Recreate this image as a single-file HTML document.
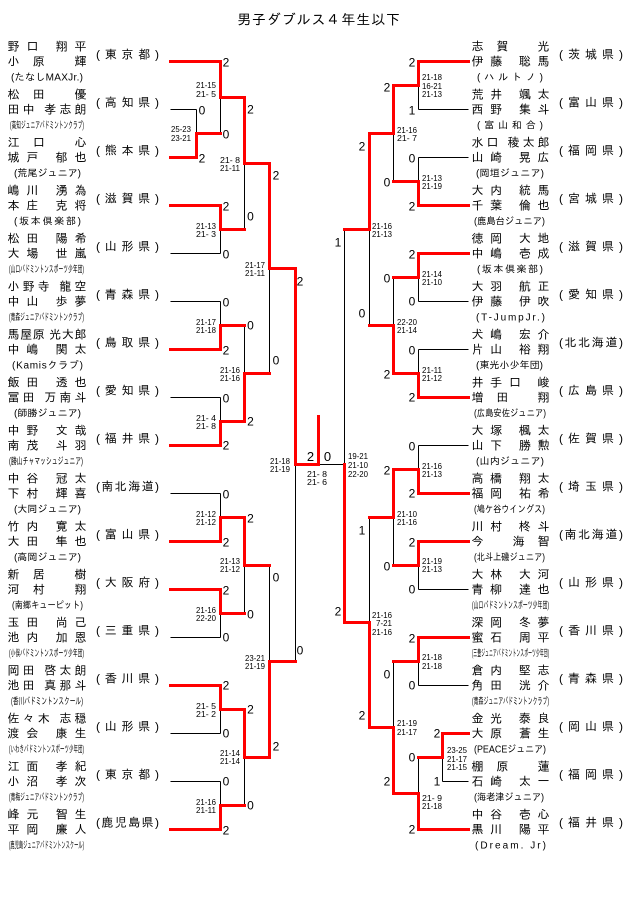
<!DOCTYPE html>
<html><head><meta charset="utf-8">
<style>
html,body{margin:0;padding:0;background:#fff}
svg{display:block}
.n,.p{font-size:12px;font-family:"Liberation Sans","IPAGothic",sans-serif;fill:#000}
.c{font-size:10px;font-family:"Liberation Sans","IPAGothic",sans-serif;fill:#000}
.t{font-size:14px;font-family:"Liberation Sans","IPAGothic",sans-serif;fill:#000}
.s{font-size:8px;font-family:"Liberation Sans",sans-serif;fill:#000}
.l{font-size:12px;font-family:"Liberation Sans",sans-serif;text-anchor:middle;fill:#000}
.lf{font-size:13px;font-family:"Liberation Sans",sans-serif;text-anchor:middle;fill:#000}
</style></head>
<body>
<svg width="640" height="909" viewBox="0 0 640 909" xmlns="http://www.w3.org/2000/svg">
<rect width="640" height="909" fill="#fff"/>
<text class="t" x="237" y="24.5" textLength="163" lengthAdjust="spacing">男子ダブルス４年生以下</text>

<!-- lines -->
<g transform="translate(-0.5,-0.5)" fill="none" shape-rendering="crispEdges">
<path stroke="#000" stroke-width="1" d="
M171 110H197 M171 254H221 M171 302H221 M171 398H221 M171 494H221 M171 638H221 M171 734H221 M171 782H221
M197 110V134 M221 98V134 M221 230V254 M221 302V326 M221 398V422 M221 494V518 M221 614V638 M221 710V734 M221 782V806
M245 164V230 M245 326V374 M245 566V614 M245 758V806
M270 269V374 M270 566V662
M296 465V662
M319 465H345
M345 230V465
M370 230V326 M370 518V623
M394 134V182 M394 278V326 M394 518V566 M394 662V728
M419 86V110 M419 158V182 M419 278V302 M419 350V374 M419 446V470 M419 566V590 M419 662V686 M419 758V794
M443 758V782
M419 110H469 M419 158H469 M419 302H469 M419 350H469 M419 446H469 M419 590H469 M419 686H469 M443 782H469"/>
<g stroke="#ff0000" stroke-width="3" stroke-linejoin="miter" stroke-linecap="square">
<path d="M171 62H221V98H245V164H270V269H296V465H319V417"/>
<path d="M171 158H197V134H221"/>
<path d="M171 206H221V230H245"/>
<path d="M171 350H221V326H245"/>
<path d="M171 446H221V422H245V374H270"/>
<path d="M171 542H221V518H245V566H270"/>
<path d="M171 590H221V614H245"/>
<path d="M171 686H221V710H245V758H270V662H296"/>
<path d="M171 830H221V806H245"/>
<path d="M469 62H419V86H394V134H370V230H345"/>
<path d="M469 206H419V182H394"/>
<path d="M469 254H419V278H394"/>
<path d="M469 398H419V374H394V326H370"/>
<path d="M469 494H419V470H394V518H370"/>
<path d="M469 542H419V566H394"/>
<path d="M469 638H419V662H394"/>
<path d="M469 734H443V758H419"/>
<path d="M469 830H419V794H394V728H370V623H345V465"/>
</g>
</g>

<!-- left teams -->
<g transform="translate(0,62)"><text class="n" x="7.5" y="-11.3" textLength="79" lengthAdjust="spacing">野口 翔平</text><text class="n" x="7.5" y="3.7" textLength="79" lengthAdjust="spacing">小原 輝</text><text class="p" x="96" y="-3.7" textLength="63" lengthAdjust="spacing">(東京都)</text><text class="c" x="11" y="18.7" textLength="72" lengthAdjust="spacing">(たなしMAXJr.)</text></g>
<g transform="translate(0,110)"><text class="n" x="7.5" y="-11.3" textLength="79" lengthAdjust="spacing">松田 優</text><text class="n" x="7.5" y="3.7" textLength="79" lengthAdjust="spacing">田中 孝志朗</text><text class="p" x="96" y="-3.7" textLength="63" lengthAdjust="spacing">(高知県)</text><text class="c" x="10" y="18.7" textLength="74" lengthAdjust="spacingAndGlyphs">(高知ジュニアバドミントンクラブ)</text></g>
<g transform="translate(0,158)"><text class="n" x="7.5" y="-11.3" textLength="79" lengthAdjust="spacing">江口 心</text><text class="n" x="7.5" y="3.7" textLength="79" lengthAdjust="spacing">城戸 郁也</text><text class="p" x="96" y="-3.7" textLength="63" lengthAdjust="spacing">(熊本県)</text><text class="c" x="14" y="18.7" textLength="67" lengthAdjust="spacing">(荒尾ジュニア)</text></g>
<g transform="translate(0,206)"><text class="n" x="7.5" y="-11.3" textLength="79" lengthAdjust="spacing">嶋川 湧為</text><text class="n" x="7.5" y="3.7" textLength="79" lengthAdjust="spacing">本庄 克将</text><text class="p" x="96" y="-3.7" textLength="63" lengthAdjust="spacing">(滋賀県)</text><text class="c" x="14" y="18.7" textLength="67" lengthAdjust="spacing">(坂本倶楽部)</text></g>
<g transform="translate(0,254)"><text class="n" x="7.5" y="-11.3" textLength="79" lengthAdjust="spacing">松田 陽希</text><text class="n" x="7.5" y="3.7" textLength="79" lengthAdjust="spacing">大場 世嵐</text><text class="p" x="96" y="-3.7" textLength="63" lengthAdjust="spacing">(山形県)</text><text class="c" x="9" y="18.7" textLength="75" lengthAdjust="spacingAndGlyphs">(山口バドミントンスポーツ少年団)</text></g>
<g transform="translate(0,302)"><text class="n" x="7.5" y="-11.3" textLength="79" lengthAdjust="spacing">小野寺 龍空</text><text class="n" x="7.5" y="3.7" textLength="79" lengthAdjust="spacing">中山 歩夢</text><text class="p" x="96" y="-3.7" textLength="63" lengthAdjust="spacing">(青森県)</text><text class="c" x="9" y="18.7" textLength="75" lengthAdjust="spacingAndGlyphs">(青森ジュニアバドミントンクラブ)</text></g>
<g transform="translate(0,350)"><text class="n" x="7.5" y="-11.3" textLength="79" lengthAdjust="spacing">馬屋原 光大郎</text><text class="n" x="7.5" y="3.7" textLength="79" lengthAdjust="spacing">中嶋 関太</text><text class="p" x="96" y="-3.7" textLength="63" lengthAdjust="spacing">(鳥取県)</text><text class="c" x="12" y="18.7" textLength="71" lengthAdjust="spacing">(Kamisクラブ)</text></g>
<g transform="translate(0,398)"><text class="n" x="7.5" y="-11.3" textLength="79" lengthAdjust="spacing">飯田 透也</text><text class="n" x="7.5" y="3.7" textLength="79" lengthAdjust="spacing">冨田 万南斗</text><text class="p" x="96" y="-3.7" textLength="63" lengthAdjust="spacing">(愛知県)</text><text class="c" x="14" y="18.7" textLength="67" lengthAdjust="spacing">(師勝ジュニア)</text></g>
<g transform="translate(0,446)"><text class="n" x="7.5" y="-11.3" textLength="79" lengthAdjust="spacing">中野 文哉</text><text class="n" x="7.5" y="3.7" textLength="79" lengthAdjust="spacing">南茂 斗羽</text><text class="p" x="96" y="-3.7" textLength="63" lengthAdjust="spacing">(福井県)</text><text class="c" x="9" y="18.7" textLength="74" lengthAdjust="spacingAndGlyphs">(勝山チャマッシュジュニア)</text></g>
<g transform="translate(0,494)"><text class="n" x="7.5" y="-11.3" textLength="79" lengthAdjust="spacing">中谷 冠太</text><text class="n" x="7.5" y="3.7" textLength="79" lengthAdjust="spacing">下村 輝喜</text><text class="p" x="96" y="-3.7" textLength="63" lengthAdjust="spacing">(南北海道)</text><text class="c" x="14" y="18.7" textLength="67" lengthAdjust="spacing">(大同ジュニア)</text></g>
<g transform="translate(0,542)"><text class="n" x="7.5" y="-11.3" textLength="79" lengthAdjust="spacing">竹内 寛太</text><text class="n" x="7.5" y="3.7" textLength="79" lengthAdjust="spacing">大田 隼也</text><text class="p" x="96" y="-3.7" textLength="63" lengthAdjust="spacing">(富山県)</text><text class="c" x="14" y="18.7" textLength="67" lengthAdjust="spacing">(高岡ジュニア)</text></g>
<g transform="translate(0,590)"><text class="n" x="7.5" y="-11.3" textLength="79" lengthAdjust="spacing">新居 樹</text><text class="n" x="7.5" y="3.7" textLength="79" lengthAdjust="spacing">河村 翔</text><text class="p" x="96" y="-3.7" textLength="63" lengthAdjust="spacing">(大阪府)</text><text class="c" x="12" y="18.7" textLength="71" lengthAdjust="spacingAndGlyphs">(南郷キューピット)</text></g>
<g transform="translate(0,638)"><text class="n" x="7.5" y="-11.3" textLength="79" lengthAdjust="spacing">玉田 尚己</text><text class="n" x="7.5" y="3.7" textLength="79" lengthAdjust="spacing">池内 加恩</text><text class="p" x="96" y="-3.7" textLength="63" lengthAdjust="spacing">(三重県)</text><text class="c" x="9" y="18.7" textLength="75" lengthAdjust="spacingAndGlyphs">(小俣バドミントンスポーツ少年団)</text></g>
<g transform="translate(0,686)"><text class="n" x="7.5" y="-11.3" textLength="79" lengthAdjust="spacing">岡田 啓太朗</text><text class="n" x="7.5" y="3.7" textLength="79" lengthAdjust="spacing">池田 真那斗</text><text class="p" x="96" y="-3.7" textLength="63" lengthAdjust="spacing">(香川県)</text><text class="c" x="11" y="18.7" textLength="72" lengthAdjust="spacingAndGlyphs">(香川バドミントンスクール)</text></g>
<g transform="translate(0,734)"><text class="n" x="7.5" y="-11.3" textLength="79" lengthAdjust="spacing">佐々木 志穏</text><text class="n" x="7.5" y="3.7" textLength="79" lengthAdjust="spacing">渡会 康生</text><text class="p" x="96" y="-3.7" textLength="63" lengthAdjust="spacing">(山形県)</text><text class="c" x="9" y="18.7" textLength="75" lengthAdjust="spacingAndGlyphs">(いわきバドミントンスポーツ少年団)</text></g>
<g transform="translate(0,782)"><text class="n" x="7.5" y="-11.3" textLength="79" lengthAdjust="spacing">江面 孝紀</text><text class="n" x="7.5" y="3.7" textLength="79" lengthAdjust="spacing">小沼 孝次</text><text class="p" x="96" y="-3.7" textLength="63" lengthAdjust="spacing">(東京都)</text><text class="c" x="9" y="18.7" textLength="75" lengthAdjust="spacingAndGlyphs">(青梅ジュニアバドミントンクラブ)</text></g>
<g transform="translate(0,830)"><text class="n" x="7.5" y="-11.3" textLength="79" lengthAdjust="spacing">峰元 智生</text><text class="n" x="7.5" y="3.7" textLength="79" lengthAdjust="spacing">平岡 廉人</text><text class="p" x="96" y="-3.7" textLength="63" lengthAdjust="spacing">(鹿児島県)</text><text class="c" x="9" y="18.7" textLength="75" lengthAdjust="spacingAndGlyphs">(鹿児島ジュニアバドミントンスクール)</text></g>

<!-- right teams -->
<g transform="translate(0,62)"><text class="n" x="471.5" y="-11.3" textLength="78" lengthAdjust="spacing">志賀 光</text><text class="n" x="471.5" y="3.7" textLength="78" lengthAdjust="spacing">伊藤 聡馬</text><text class="p" x="559" y="-3.7" textLength="64" lengthAdjust="spacing">(茨城県)</text><text class="c" x="477" y="18.7" textLength="66" lengthAdjust="spacing">(ハルトノ)</text></g>
<g transform="translate(0,110)"><text class="n" x="471.5" y="-11.3" textLength="78" lengthAdjust="spacing">荒井 颯太</text><text class="n" x="471.5" y="3.7" textLength="78" lengthAdjust="spacing">西野 集斗</text><text class="p" x="559" y="-3.7" textLength="64" lengthAdjust="spacing">(富山県)</text><text class="c" x="477" y="18.7" textLength="66" lengthAdjust="spacing">(富山和合)</text></g>
<g transform="translate(0,158)"><text class="n" x="471.5" y="-11.3" textLength="78" lengthAdjust="spacing">水口 稜太郎</text><text class="n" x="471.5" y="3.7" textLength="78" lengthAdjust="spacing">山崎 晃広</text><text class="p" x="559" y="-3.7" textLength="64" lengthAdjust="spacing">(福岡県)</text><text class="c" x="476" y="18.7" textLength="68" lengthAdjust="spacing">(岡垣ジュニア)</text></g>
<g transform="translate(0,206)"><text class="n" x="471.5" y="-11.3" textLength="78" lengthAdjust="spacing">大内 統馬</text><text class="n" x="471.5" y="3.7" textLength="78" lengthAdjust="spacing">千葉 倫也</text><text class="p" x="559" y="-3.7" textLength="64" lengthAdjust="spacing">(宮城県)</text><text class="c" x="474" y="18.7" textLength="71" lengthAdjust="spacingAndGlyphs">(鹿島台ジュニア)</text></g>
<g transform="translate(0,254)"><text class="n" x="471.5" y="-11.3" textLength="78" lengthAdjust="spacing">徳岡 大地</text><text class="n" x="471.5" y="3.7" textLength="78" lengthAdjust="spacing">中嶋 壱成</text><text class="p" x="559" y="-3.7" textLength="64" lengthAdjust="spacing">(滋賀県)</text><text class="c" x="477" y="18.7" textLength="66" lengthAdjust="spacing">(坂本倶楽部)</text></g>
<g transform="translate(0,302)"><text class="n" x="471.5" y="-11.3" textLength="78" lengthAdjust="spacing">大羽 航正</text><text class="n" x="471.5" y="3.7" textLength="78" lengthAdjust="spacing">伊藤 伊吹</text><text class="p" x="559" y="-3.7" textLength="64" lengthAdjust="spacing">(愛知県)</text><text class="c" x="476" y="18.7" textLength="69" lengthAdjust="spacing">(T-JumpJr.)</text></g>
<g transform="translate(0,350)"><text class="n" x="471.5" y="-11.3" textLength="78" lengthAdjust="spacing">犬嶋 宏介</text><text class="n" x="471.5" y="3.7" textLength="78" lengthAdjust="spacing">片山 裕翔</text><text class="p" x="559" y="-3.7" textLength="64" lengthAdjust="spacing">(北北海道)</text><text class="c" x="476" y="18.7" textLength="67" lengthAdjust="spacingAndGlyphs">(東光小少年団)</text></g>
<g transform="translate(0,398)"><text class="n" x="471.5" y="-11.3" textLength="78" lengthAdjust="spacing">井手口 峻</text><text class="n" x="471.5" y="3.7" textLength="78" lengthAdjust="spacing">増田 翔</text><text class="p" x="559" y="-3.7" textLength="64" lengthAdjust="spacing">(広島県)</text><text class="c" x="474" y="18.7" textLength="72" lengthAdjust="spacingAndGlyphs">(広島安佐ジュニア)</text></g>
<g transform="translate(0,446)"><text class="n" x="471.5" y="-11.3" textLength="78" lengthAdjust="spacing">大塚 楓太</text><text class="n" x="471.5" y="3.7" textLength="78" lengthAdjust="spacing">山下 勝勲</text><text class="p" x="559" y="-3.7" textLength="64" lengthAdjust="spacing">(佐賀県)</text><text class="c" x="476" y="18.7" textLength="68" lengthAdjust="spacing">(山内ジュニア)</text></g>
<g transform="translate(0,494)"><text class="n" x="471.5" y="-11.3" textLength="78" lengthAdjust="spacing">高橋 翔太</text><text class="n" x="471.5" y="3.7" textLength="78" lengthAdjust="spacing">福岡 祐希</text><text class="p" x="559" y="-3.7" textLength="64" lengthAdjust="spacing">(埼玉県)</text><text class="c" x="474" y="18.7" textLength="71" lengthAdjust="spacingAndGlyphs">(鳩ケ谷ウイングス)</text></g>
<g transform="translate(0,542)"><text class="n" x="471.5" y="-11.3" textLength="78" lengthAdjust="spacing">川村 柊斗</text><text class="n" x="471.5" y="3.7" textLength="78" lengthAdjust="spacing">今 海智</text><text class="p" x="559" y="-3.7" textLength="64" lengthAdjust="spacing">(南北海道)</text><text class="c" x="474" y="18.7" textLength="71" lengthAdjust="spacingAndGlyphs">(北斗上磯ジュニア)</text></g>
<g transform="translate(0,590)"><text class="n" x="471.5" y="-11.3" textLength="78" lengthAdjust="spacing">大林 大河</text><text class="n" x="471.5" y="3.7" textLength="78" lengthAdjust="spacing">青柳 達也</text><text class="p" x="559" y="-3.7" textLength="64" lengthAdjust="spacing">(山形県)</text><text class="c" x="472" y="18.7" textLength="77" lengthAdjust="spacingAndGlyphs">(山口バドミントンスポーツ少年団)</text></g>
<g transform="translate(0,638)"><text class="n" x="471.5" y="-11.3" textLength="78" lengthAdjust="spacing">深岡 冬夢</text><text class="n" x="471.5" y="3.7" textLength="78" lengthAdjust="spacing">蜜石 周平</text><text class="p" x="559" y="-3.7" textLength="64" lengthAdjust="spacing">(香川県)</text><text class="c" x="472" y="18.7" textLength="77" lengthAdjust="spacingAndGlyphs">(三豊ジュニアバドミントンスポーツ少年団)</text></g>
<g transform="translate(0,686)"><text class="n" x="471.5" y="-11.3" textLength="78" lengthAdjust="spacing">倉内 堅志</text><text class="n" x="471.5" y="3.7" textLength="78" lengthAdjust="spacing">角田 洸介</text><text class="p" x="559" y="-3.7" textLength="64" lengthAdjust="spacing">(青森県)</text><text class="c" x="472" y="18.7" textLength="77" lengthAdjust="spacingAndGlyphs">(青森ジュニアバドミントンクラブ)</text></g>
<g transform="translate(0,734)"><text class="n" x="471.5" y="-11.3" textLength="78" lengthAdjust="spacing">金光 泰良</text><text class="n" x="471.5" y="3.7" textLength="78" lengthAdjust="spacing">大原 蒼生</text><text class="p" x="559" y="-3.7" textLength="64" lengthAdjust="spacing">(岡山県)</text><text class="c" x="474" y="18.7" textLength="72" lengthAdjust="spacingAndGlyphs">(PEACEジュニア)</text></g>
<g transform="translate(0,782)"><text class="n" x="471.5" y="-11.3" textLength="78" lengthAdjust="spacing">棚原 蓮</text><text class="n" x="471.5" y="3.7" textLength="78" lengthAdjust="spacing">石崎 太一</text><text class="p" x="559" y="-3.7" textLength="64" lengthAdjust="spacing">(福岡県)</text><text class="c" x="474" y="18.7" textLength="70" lengthAdjust="spacingAndGlyphs">(海老津ジュニア)</text></g>
<g transform="translate(0,830)"><text class="n" x="471.5" y="-11.3" textLength="78" lengthAdjust="spacing">中谷 壱心</text><text class="n" x="471.5" y="3.7" textLength="78" lengthAdjust="spacing">黒川 陽平</text><text class="p" x="559" y="-3.7" textLength="64" lengthAdjust="spacing">(福井県)</text><text class="c" x="475" y="18.7" textLength="71" lengthAdjust="spacing">(Dream. Jr)</text></g>

<!-- scores left -->
<g class="s">
<text class="s" x="171" y="131.9" textLength="20" lengthAdjust="spacingAndGlyphs">25-23</text>
<text class="s" x="171" y="140.9" textLength="20" lengthAdjust="spacingAndGlyphs">23-21</text>
<text class="s" x="196" y="87.9" textLength="20" lengthAdjust="spacingAndGlyphs">21-15</text>
<text class="s" x="196" y="96.9" textLength="20" lengthAdjust="spacingAndGlyphs">21- 5</text>
<text class="s" x="196" y="228.9" textLength="20" lengthAdjust="spacingAndGlyphs">21-13</text>
<text class="s" x="196" y="236.9" textLength="20" lengthAdjust="spacingAndGlyphs">21- 3</text>
<text class="s" x="196" y="324.9" textLength="20" lengthAdjust="spacingAndGlyphs">21-17</text>
<text class="s" x="196" y="332.9" textLength="20" lengthAdjust="spacingAndGlyphs">21-18</text>
<text class="s" x="196" y="420.9" textLength="20" lengthAdjust="spacingAndGlyphs">21- 4</text>
<text class="s" x="196" y="428.9" textLength="20" lengthAdjust="spacingAndGlyphs">21- 8</text>
<text class="s" x="196" y="516.9" textLength="20" lengthAdjust="spacingAndGlyphs">21-12</text>
<text class="s" x="196" y="524.9" textLength="20" lengthAdjust="spacingAndGlyphs">21-12</text>
<text class="s" x="196" y="612.9" textLength="20" lengthAdjust="spacingAndGlyphs">21-16</text>
<text class="s" x="196" y="620.9" textLength="20" lengthAdjust="spacingAndGlyphs">22-20</text>
<text class="s" x="196" y="708.9" textLength="20" lengthAdjust="spacingAndGlyphs">21- 5</text>
<text class="s" x="196" y="716.9" textLength="20" lengthAdjust="spacingAndGlyphs">21- 2</text>
<text class="s" x="196" y="804.9" textLength="20" lengthAdjust="spacingAndGlyphs">21-16</text>
<text class="s" x="196" y="812.9" textLength="20" lengthAdjust="spacingAndGlyphs">21-11</text>
<text class="s" x="220" y="162.9" textLength="20" lengthAdjust="spacingAndGlyphs">21- 8</text>
<text class="s" x="220" y="170.9" textLength="20" lengthAdjust="spacingAndGlyphs">21-11</text>
<text class="s" x="220" y="372.9" textLength="20" lengthAdjust="spacingAndGlyphs">21-16</text>
<text class="s" x="220" y="380.9" textLength="20" lengthAdjust="spacingAndGlyphs">21-16</text>
<text class="s" x="220" y="563.9" textLength="20" lengthAdjust="spacingAndGlyphs">21-13</text>
<text class="s" x="220" y="571.9" textLength="20" lengthAdjust="spacingAndGlyphs">21-12</text>
<text class="s" x="220" y="755.9" textLength="20" lengthAdjust="spacingAndGlyphs">21-14</text>
<text class="s" x="220" y="763.9" textLength="20" lengthAdjust="spacingAndGlyphs">21-14</text>
<text class="s" x="245" y="267.9" textLength="20" lengthAdjust="spacingAndGlyphs">21-17</text>
<text class="s" x="245" y="275.9" textLength="20" lengthAdjust="spacingAndGlyphs">21-11</text>
<text class="s" x="245" y="660.9" textLength="20" lengthAdjust="spacingAndGlyphs">23-21</text>
<text class="s" x="245" y="668.9" textLength="20" lengthAdjust="spacingAndGlyphs">21-19</text>
<text class="s" x="270" y="463.9" textLength="20" lengthAdjust="spacingAndGlyphs">21-18</text>
<text class="s" x="270" y="471.9" textLength="20" lengthAdjust="spacingAndGlyphs">21-19</text>
<text class="s" x="307" y="476.9" textLength="20" lengthAdjust="spacingAndGlyphs">21- 8</text>
<text class="s" x="307" y="484.9" textLength="20" lengthAdjust="spacingAndGlyphs">21- 6</text>
<text class="s" x="348" y="458.9" textLength="20" lengthAdjust="spacingAndGlyphs">19-21</text>
<text class="s" x="348" y="467.9" textLength="20" lengthAdjust="spacingAndGlyphs">21-10</text>
<text class="s" x="348" y="476.9" textLength="20" lengthAdjust="spacingAndGlyphs">22-20</text>
<!-- scores right -->
<text class="s" x="447" y="752.9" textLength="20" lengthAdjust="spacingAndGlyphs">23-25</text>
<text class="s" x="447" y="761.9" textLength="20" lengthAdjust="spacingAndGlyphs">21-17</text>
<text class="s" x="447" y="769.9" textLength="20" lengthAdjust="spacingAndGlyphs">21-15</text>
<text class="s" x="422" y="79.9" textLength="20" lengthAdjust="spacingAndGlyphs">21-18</text>
<text class="s" x="422" y="88.9" textLength="20" lengthAdjust="spacingAndGlyphs">16-21</text>
<text class="s" x="422" y="96.9" textLength="20" lengthAdjust="spacingAndGlyphs">21-13</text>
<text class="s" x="422" y="180.9" textLength="20" lengthAdjust="spacingAndGlyphs">21-13</text>
<text class="s" x="422" y="188.9" textLength="20" lengthAdjust="spacingAndGlyphs">21-19</text>
<text class="s" x="422" y="276.9" textLength="20" lengthAdjust="spacingAndGlyphs">21-14</text>
<text class="s" x="422" y="284.9" textLength="20" lengthAdjust="spacingAndGlyphs">21-10</text>
<text class="s" x="422" y="372.9" textLength="20" lengthAdjust="spacingAndGlyphs">21-11</text>
<text class="s" x="422" y="380.9" textLength="20" lengthAdjust="spacingAndGlyphs">21-12</text>
<text class="s" x="422" y="468.9" textLength="20" lengthAdjust="spacingAndGlyphs">21-16</text>
<text class="s" x="422" y="476.9" textLength="20" lengthAdjust="spacingAndGlyphs">21-13</text>
<text class="s" x="422" y="563.9" textLength="20" lengthAdjust="spacingAndGlyphs">21-19</text>
<text class="s" x="422" y="571.9" textLength="20" lengthAdjust="spacingAndGlyphs">21-13</text>
<text class="s" x="422" y="659.9" textLength="20" lengthAdjust="spacingAndGlyphs">21-18</text>
<text class="s" x="422" y="668.9" textLength="20" lengthAdjust="spacingAndGlyphs">21-18</text>
<text class="s" x="422" y="800.9" textLength="20" lengthAdjust="spacingAndGlyphs">21- 9</text>
<text class="s" x="422" y="808.9" textLength="20" lengthAdjust="spacingAndGlyphs">21-18</text>
<text class="s" x="397" y="132.9" textLength="20" lengthAdjust="spacingAndGlyphs">21-16</text>
<text class="s" x="397" y="140.9" textLength="20" lengthAdjust="spacingAndGlyphs">21- 7</text>
<text class="s" x="397" y="324.9" textLength="20" lengthAdjust="spacingAndGlyphs">22-20</text>
<text class="s" x="397" y="332.9" textLength="20" lengthAdjust="spacingAndGlyphs">21-14</text>
<text class="s" x="397" y="516.9" textLength="20" lengthAdjust="spacingAndGlyphs">21-10</text>
<text class="s" x="397" y="524.9" textLength="20" lengthAdjust="spacingAndGlyphs">21-16</text>
<text class="s" x="397" y="725.9" textLength="20" lengthAdjust="spacingAndGlyphs">21-19</text>
<text class="s" x="397" y="734.9" textLength="20" lengthAdjust="spacingAndGlyphs">21-17</text>
<text class="s" x="372" y="228.9" textLength="20" lengthAdjust="spacingAndGlyphs">21-16</text>
<text class="s" x="372" y="236.9" textLength="20" lengthAdjust="spacingAndGlyphs">21-13</text>
<text class="s" x="372" y="617.9" textLength="20" lengthAdjust="spacingAndGlyphs">21-16</text>
<text class="s" x="376" y="625.9" textLength="16" lengthAdjust="spacingAndGlyphs">7-21</text>
<text class="s" x="372" y="634.9" textLength="20" lengthAdjust="spacingAndGlyphs">21-16</text>
</g>

<!-- game count labels left -->
<g class="l">
<text class="l" x="202" y="114.3">0</text><text class="l" x="202" y="162.3">2</text>
<text class="l" x="226" y="66.3">2</text><text class="l" x="226" y="138.3">0</text><text class="l" x="226" y="210.3">2</text><text class="l" x="226" y="258.3">0</text>
<text class="l" x="226" y="306.3">0</text><text class="l" x="226" y="354.3">2</text><text class="l" x="226" y="402.3">0</text><text class="l" x="226" y="449.3">2</text>
<text class="l" x="226" y="498.3">0</text><text class="l" x="226" y="546.3">2</text><text class="l" x="226" y="594.3">2</text><text class="l" x="226" y="641.3">0</text>
<text class="l" x="226" y="689.3">2</text><text class="l" x="226" y="737.3">0</text><text class="l" x="226" y="785.3">0</text><text class="l" x="226" y="834.3">2</text>
<text class="l" x="250.5" y="113.3">2</text><text class="l" x="250.5" y="220.3">0</text><text class="l" x="250.5" y="329.3">0</text><text class="l" x="250.5" y="425.3">2</text>
<text class="l" x="250.5" y="522.3">2</text><text class="l" x="250.5" y="618.3">0</text><text class="l" x="250.5" y="713.3">2</text><text class="l" x="250.5" y="809.3">0</text>
<text class="l" x="276" y="179.3">2</text><text class="l" x="276" y="364.3">0</text><text class="l" x="276" y="581.3">0</text><text class="l" x="276" y="750.3">2</text>
<text class="l" x="300" y="285.3">2</text><text class="l" x="300" y="654.3">0</text>
<!-- right -->
<text class="l" x="412" y="66.3">2</text><text class="l" x="412" y="114.3">1</text><text class="l" x="412" y="162.3">0</text><text class="l" x="412" y="210.3">2</text>
<text class="l" x="412" y="258.3">2</text><text class="l" x="412" y="305.3">0</text><text class="l" x="412" y="354.3">0</text><text class="l" x="412" y="401.3">2</text>
<text class="l" x="412" y="450.3">0</text><text class="l" x="412" y="497.3">2</text><text class="l" x="412" y="546.3">2</text><text class="l" x="412" y="593.3">0</text>
<text class="l" x="412" y="642.3">2</text><text class="l" x="412" y="689.3">0</text><text class="l" x="412" y="761.3">0</text><text class="l" x="412" y="833.3">2</text>
<text class="l" x="437" y="737.3">2</text><text class="l" x="437" y="785.3">1</text>
<text class="l" x="387" y="91.3">2</text><text class="l" x="387" y="186.3">0</text><text class="l" x="387" y="282.3">0</text><text class="l" x="387" y="378.3">2</text>
<text class="l" x="387" y="474.3">2</text><text class="l" x="387" y="570.3">0</text><text class="l" x="387" y="678.3">0</text><text class="l" x="387" y="785.3">2</text>
<text class="l" x="362" y="150.3">2</text><text class="l" x="362" y="317.3">0</text><text class="l" x="362" y="534.3">1</text><text class="l" x="362" y="719.3">2</text>
<text class="l" x="338" y="246.3">1</text><text class="l" x="338" y="615.3">2</text>
</g>
<text class="lf" x="310.5" y="461">2</text>
<text class="lf" x="327.5" y="461">0</text>
</svg>
</body></html>
